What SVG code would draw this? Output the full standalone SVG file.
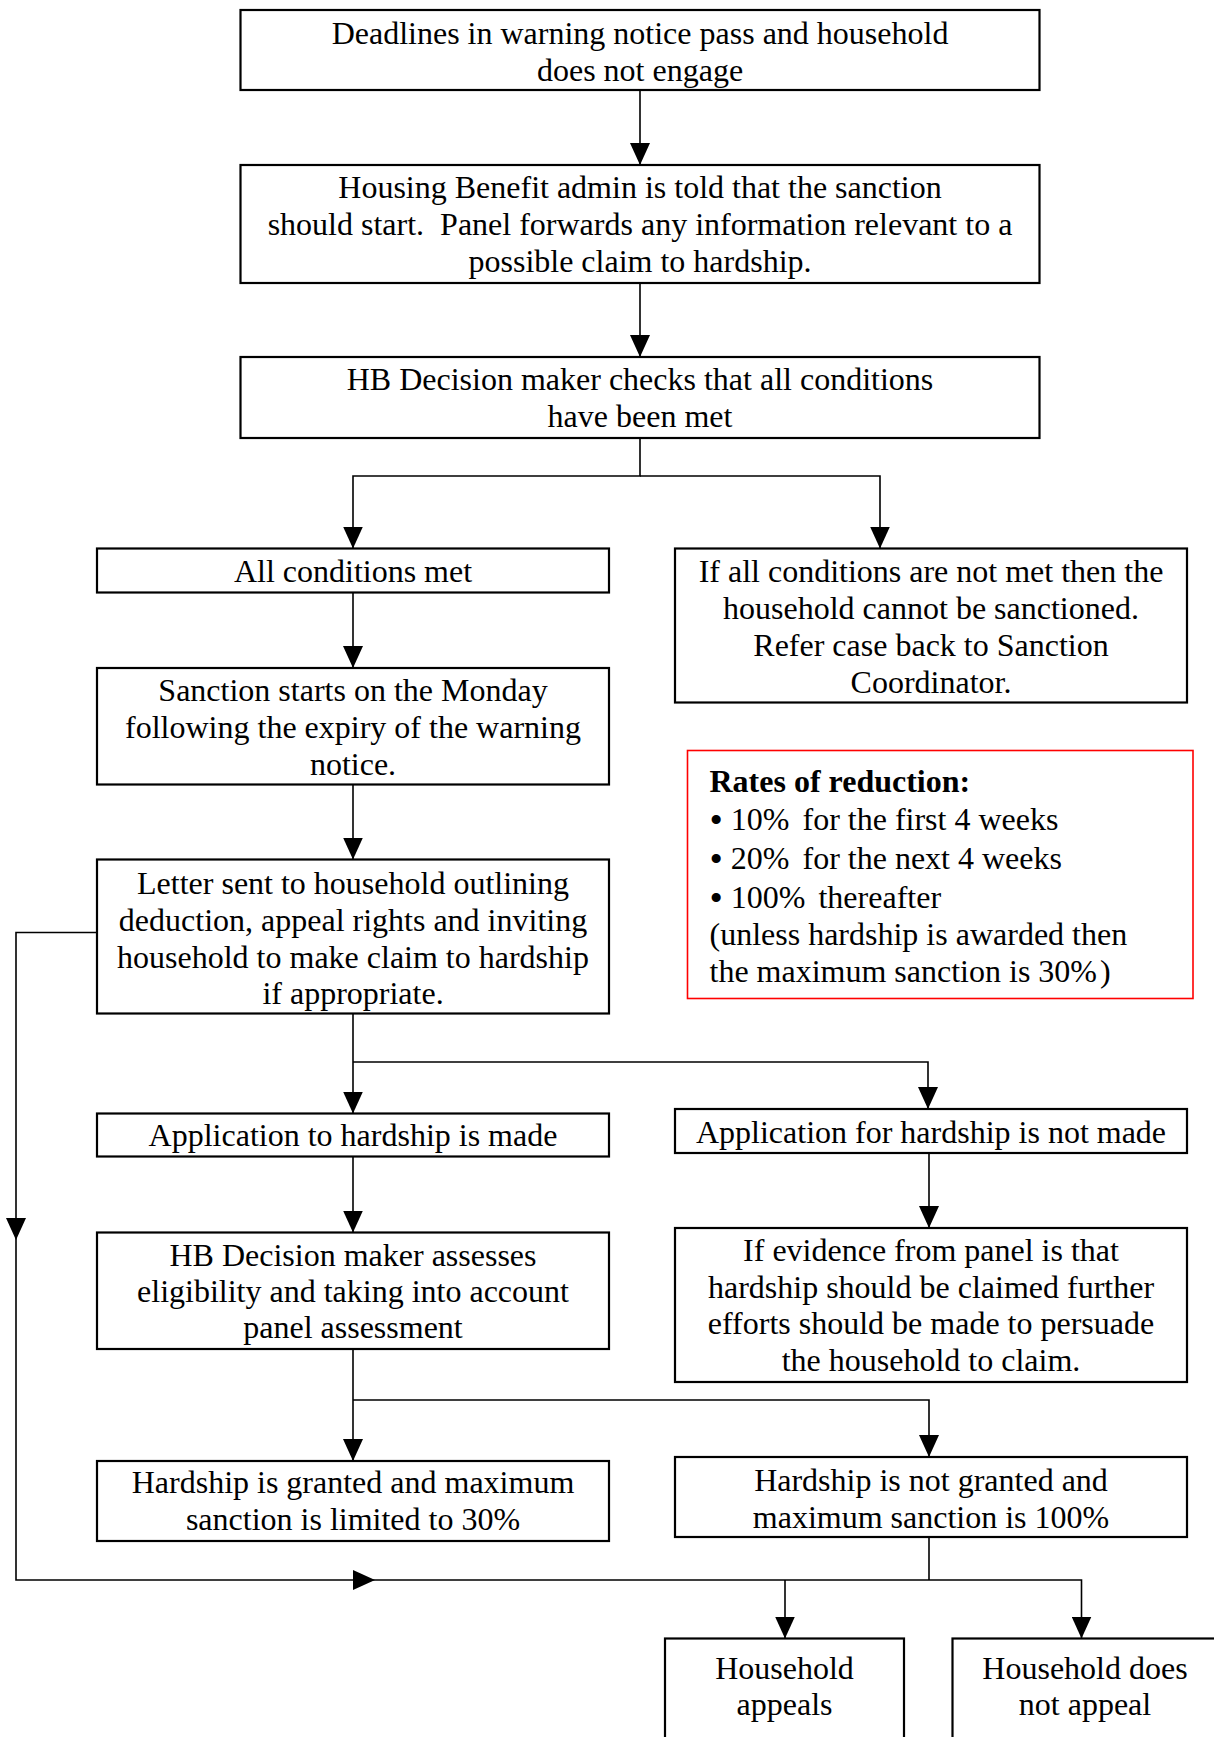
<svg xmlns="http://www.w3.org/2000/svg" width="1214" height="1737" viewBox="0 0 1214 1737">
<style>
.box{fill:#fff;stroke:#000;stroke-width:2.2}
.red{fill:#fff;stroke:#ff0000;stroke-width:1.6}
.t{font-family:"Liberation Serif","Times New Roman",serif;font-size:32px;fill:#000;text-anchor:middle}
.l{font-family:"Liberation Serif","Times New Roman",serif;font-size:32px;fill:#000}
.b{font-weight:bold}
.bu{font-size:38px}
.c{fill:none;stroke:#000;stroke-width:1.6}
.ca{fill:none;stroke:#000;stroke-width:1.6;marker-end:url(#ah)}
</style>
<defs>
<marker id="ah" viewBox="0 0 22 20" refX="22" refY="10" markerWidth="22" markerHeight="20" markerUnits="userSpaceOnUse" orient="auto">
<path d="M0,0 L22,10 L0,20 z" fill="#000"/>
</marker>
</defs>
<rect width="1214" height="1737" fill="#fff"/>
<g id="connectors">
<path class="ca" d="M640,90 V165"/>
<path class="ca" d="M640,283 V357"/>
<path class="ca" d="M640,438 V476 H353 V548.5"/>
<path class="ca" d="M640,476 H880 V548.5"/>
<path class="ca" d="M353,592.5 V668"/>
<path class="ca" d="M353,784.5 V859.5"/>
<path class="ca" d="M353,1013.5 V1113.5"/>
<path class="ca" d="M353,1062 H928 V1109"/>
<path class="ca" d="M929,1153 V1228"/>
<path class="ca" d="M353,1156.5 V1232.5"/>
<path class="ca" d="M353,1349 V1461"/>
<path class="ca" d="M353,1400 H929 V1457"/>
<path class="ca" d="M97,932.5 H16 V1240"/>
<path class="ca" d="M16,1240 V1580 H375"/>
<path class="ca" d="M375,1580 H1081.5 V1638.5"/>
<path class="c" d="M929,1537 V1580"/>
<path class="ca" d="M785,1580 V1638.5"/>
</g>
<g id="n1">
<rect class="box" x="240.5" y="10" width="799" height="80"/>
<text class="t" x="640" y="44">Deadlines in warning notice pass and household</text>
<text class="t" x="640" y="81">does not engage</text>
</g>
<g id="n2">
<rect class="box" x="240.5" y="165" width="799" height="118"/>
<text class="t" x="640" y="198">Housing Benefit admin is told that the sanction</text>
<text class="t" x="640" y="235" xml:space="preserve">should start.  Panel forwards any information relevant to a</text>
<text class="t" x="640" y="272">possible claim to hardship.</text>
</g>
<g id="n3">
<rect class="box" x="240.5" y="357" width="799" height="81"/>
<text class="t" x="640" y="390">HB Decision maker checks that all conditions</text>
<text class="t" x="640" y="427">have been met</text>
</g>
<g id="n4">
<rect class="box" x="97" y="548.5" width="512" height="44"/>
<text class="t" x="353" y="582">All conditions met</text>
</g>
<g id="n5">
<rect class="box" x="675" y="548.5" width="512" height="154"/>
<text class="t" x="931" y="582">If all conditions are not met then the</text>
<text class="t" x="931" y="619">household cannot be sanctioned.</text>
<text class="t" x="931" y="656">Refer case back to Sanction</text>
<text class="t" x="931" y="693">Coordinator.</text>
</g>
<g id="n6">
<rect class="box" x="97" y="668" width="512" height="116.5"/>
<text class="t" x="353" y="701">Sanction starts on the Monday</text>
<text class="t" x="353" y="738">following the expiry of the warning</text>
<text class="t" x="353" y="775">notice.</text>
</g>
<g id="n7">
<rect class="box" x="97" y="859.5" width="512" height="154"/>
<text class="t" x="353" y="894">Letter sent to household outlining</text>
<text class="t" x="353" y="931">deduction, appeal rights and inviting</text>
<text class="t" x="353" y="968">household to make claim to hardship</text>
<text class="t" x="353" y="1004">if appropriate.</text>
</g>
<g id="rates">
<rect class="red" x="687.5" y="750.5" width="505.5" height="248"/>
<text class="l b" x="709.5" y="792">Rates of reduction:</text>
<text class="l" x="709.5" y="830"><tspan class="bu" dy="3">•</tspan><tspan dy="-3"> 10%</tspan><tspan dx="5"> for the first 4 weeks</tspan></text>
<text class="l" x="709.5" y="869"><tspan class="bu" dy="3">•</tspan><tspan dy="-3"> 20%</tspan><tspan dx="5"> for the next 4 weeks</tspan></text>
<text class="l" x="709.5" y="908"><tspan class="bu" dy="3">•</tspan><tspan dy="-3"> 100%</tspan><tspan dx="5"> thereafter</tspan></text>
<text class="l" x="709.5" y="944.5">(unless hardship is awarded then</text>
<text class="l" x="709.5" y="982">the maximum sanction is 30%<tspan dx="3">)</tspan></text>
</g>
<g id="n8">
<rect class="box" x="97" y="1113.5" width="512" height="43"/>
<text class="t" x="353" y="1146">Application to hardship is made</text>
</g>
<g id="n9">
<rect class="box" x="675" y="1109" width="512" height="44"/>
<text class="t" x="931" y="1143">Application for hardship is not made</text>
</g>
<g id="n10">
<rect class="box" x="97" y="1232.5" width="512" height="116.5"/>
<text class="t" x="353" y="1266">HB Decision maker assesses</text>
<text class="t" x="353" y="1302">eligibility and taking into account</text>
<text class="t" x="353" y="1338">panel assessment</text>
</g>
<g id="n11">
<rect class="box" x="675" y="1228" width="512" height="154"/>
<text class="t" x="931" y="1261">If evidence from panel is that</text>
<text class="t" x="931" y="1298">hardship should be claimed further</text>
<text class="t" x="931" y="1334">efforts should be made to persuade</text>
<text class="t" x="931" y="1371">the household to claim.</text>
</g>
<g id="n12">
<rect class="box" x="97" y="1461" width="512" height="80"/>
<text class="t" x="353" y="1493">Hardship is granted and maximum</text>
<text class="t" x="353" y="1530">sanction is limited to 30%</text>
</g>
<g id="n13">
<rect class="box" x="675" y="1457" width="512" height="80"/>
<text class="t" x="931" y="1491">Hardship is not granted and</text>
<text class="t" x="931" y="1528">maximum sanction is 100%</text>
</g>
<g id="n14">
<rect class="box" x="665" y="1638.5" width="239" height="130"/>
<text class="t" x="784.5" y="1679">Household</text>
<text class="t" x="784.5" y="1715">appeals</text>
</g>
<g id="n15">
<rect class="box" x="952.5" y="1638.5" width="266" height="130"/>
<text class="t" x="1085" y="1679">Household does</text>
<text class="t" x="1085" y="1715">not appeal</text>
</g>
</svg>
